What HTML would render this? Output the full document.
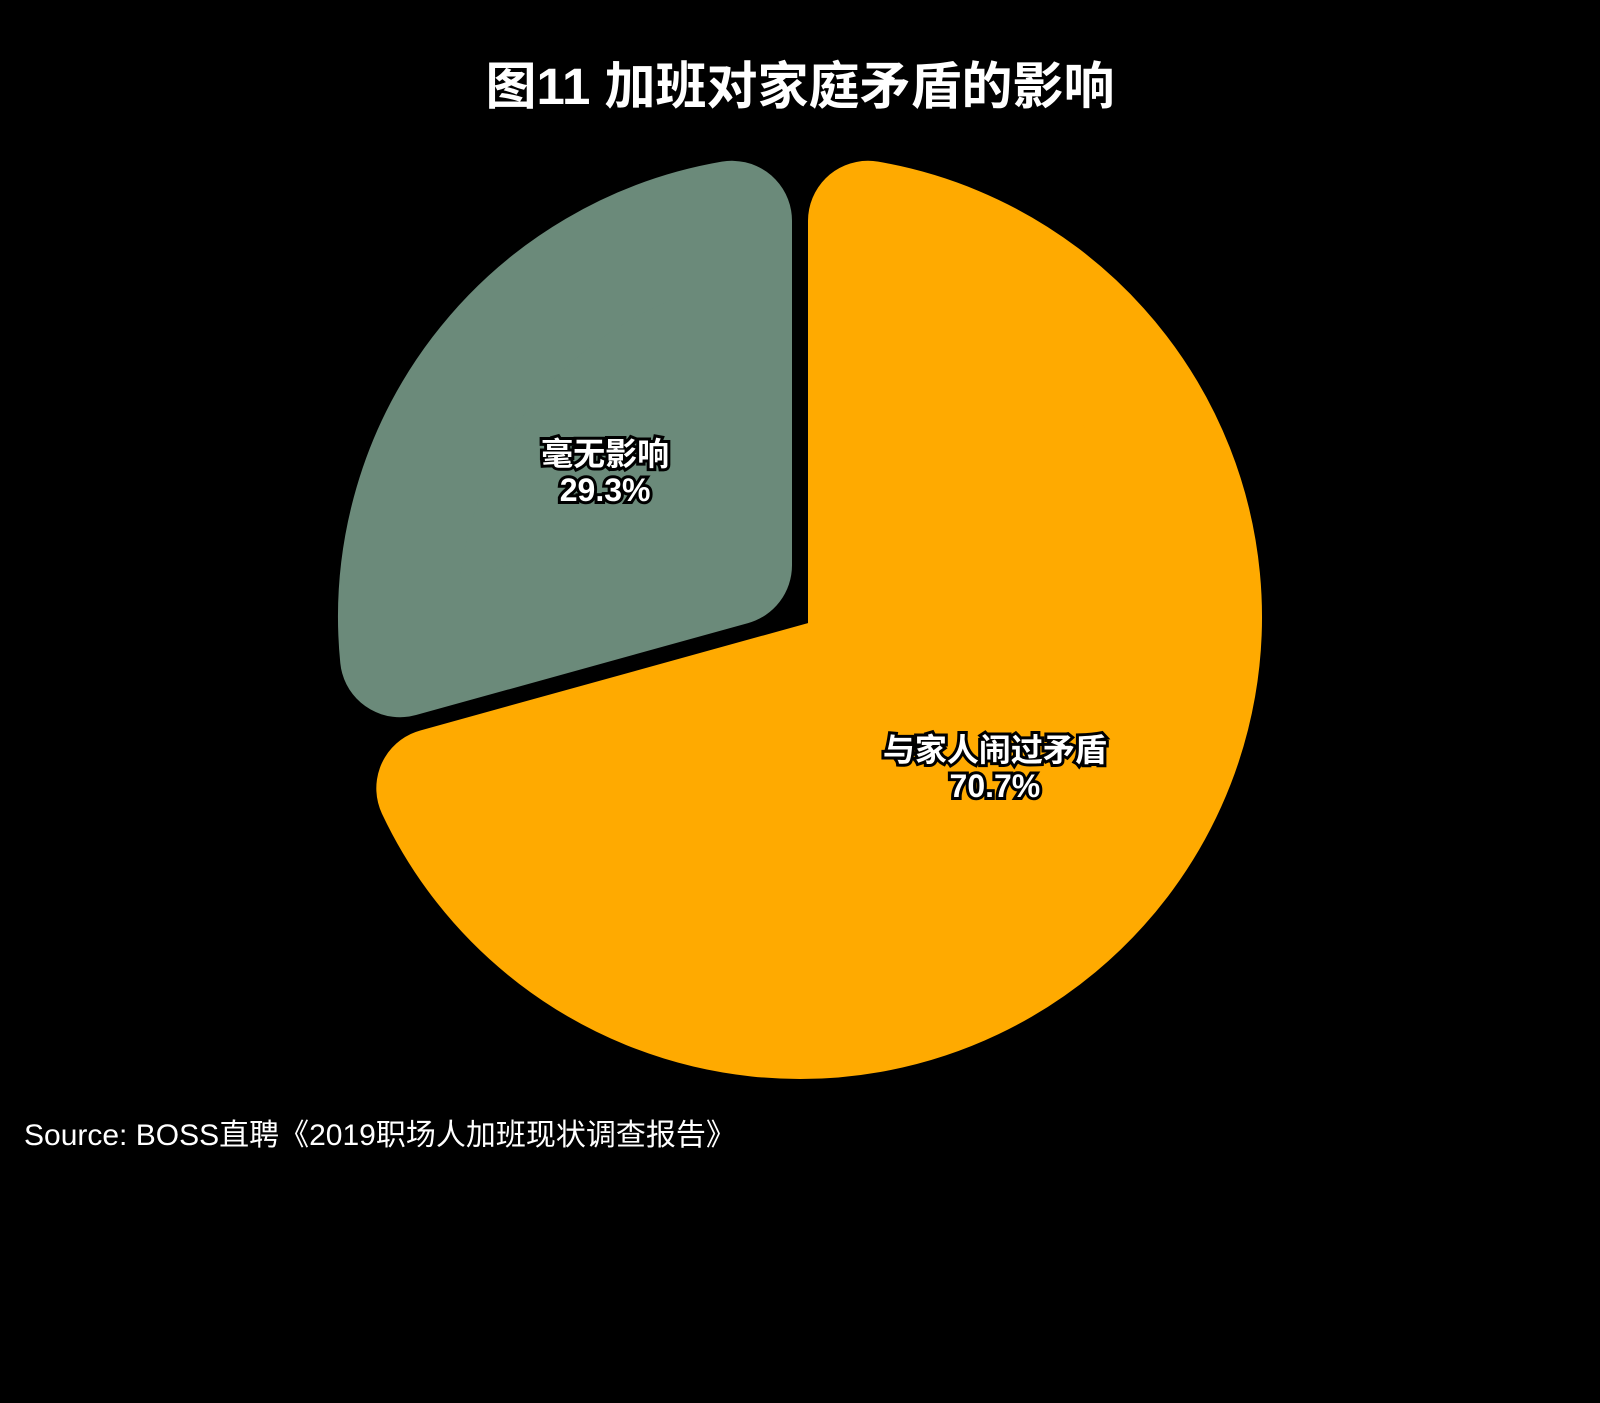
<!DOCTYPE html>
<html><head><meta charset="utf-8">
<style>
body{margin:0;background:#000;width:1600px;height:1398px;overflow:hidden;font-family:"Liberation Sans","Noto Sans CJK SC",sans-serif;}
</style></head>
<body>
<svg id="chart" width="1600" height="1398">
<text x="800" y="104" text-anchor="middle" fill="#fff" font-size="51" font-weight="bold" font-family="Liberation Sans, Noto Sans CJK SC, sans-serif">图11 加班对家庭矛盾的影响</text>
<g id="slices"></g>
<g id="labels"></g>
<text x="24" y="1145" fill="#fff" font-size="30" font-family="Liberation Sans, Noto Sans CJK SC, sans-serif">Source: BOSS直聘《2019职场人加班现状调查报告》</text>
</svg>
<script>
const categories = ["与家人闹过矛盾", "毫无影响"];
const values = [70.7, 29.3];
const colors = ["#ffaa00", "#6b8a7a"];
const cx = 800, cy = 617, R = 462, rc = 60, gap = 8;
const NS = "http://www.w3.org/2000/svg";
const total = values.reduce((a, b) => a + b, 0);
function pt(a, r) { return [cx + r * Math.sin(a), cy - r * Math.cos(a)]; }
let start = 0;
const sg = document.getElementById('slices'), lg = document.getElementById('labels');
values.forEach((v, i) => {
  const th = v / total * 2 * Math.PI, end = start + th, mid = start + th / 2;
  const d = rc + gap, Ri = R - rc;
  const apex = pt(mid, d / Math.sin(th / 2));
  const da = Math.asin(d / Ri);
  const p1 = pt(start + da, Ri), p2 = pt(end - da, Ri);
  const large = (th - 2 * da) > Math.PI ? 1 : 0;
  const path = document.createElementNS(NS, 'path');
  path.setAttribute('d', `M${apex[0]},${apex[1]} L${p1[0]},${p1[1]} A${Ri},${Ri} 0 ${large} 1 ${p2[0]},${p2[1]} Z`);
  path.setAttribute('fill', colors[i]);
  path.setAttribute('stroke', colors[i]);
  path.setAttribute('stroke-width', 2 * rc);
  path.setAttribute('stroke-linejoin', 'round');
  
  
  sg.appendChild(path);
  const lp = pt(mid, R * 0.53);
  [categories[i], v.toFixed(1) + '%'].forEach((t, k) => {
    const tx = document.createElementNS(NS, 'text');
    tx.setAttribute('x', lp[0]);
    tx.setAttribute('y', lp[1] - 4 + k * 36);
    tx.setAttribute('text-anchor', 'middle');
    tx.setAttribute('font-size', '32');
    tx.setAttribute('font-weight', 'bold');
    tx.setAttribute('fill', '#fff');
    tx.setAttribute('stroke', '#000');
    tx.setAttribute('stroke-width', '6');
    tx.setAttribute('paint-order', 'stroke');
    tx.setAttribute('font-family', 'Liberation Sans, Noto Sans CJK SC, sans-serif');
    
    
    tx.textContent = t;
    lg.appendChild(tx);
  });
  start = end;
});
</script>
</body></html>
